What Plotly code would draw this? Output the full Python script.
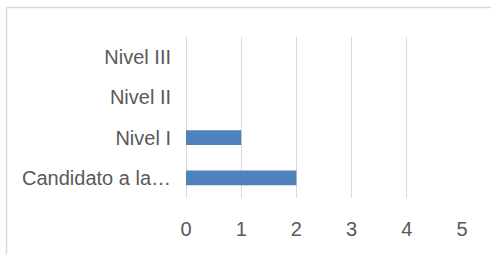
import plotly.graph_objects as go

categories = ["Candidato a la…", "Nivel I", "Nivel II", "Nivel III"]
values = [2, 1, 0, 0]
x_ticks = [0, 1, 2, 3, 4, 5]

W, H = 491, 254
L, R, T, B = 186, 29, 37, 56
pw, ph = W - L - R, H - T - B

fig = go.Figure(go.Bar(
    y=categories, x=values, orientation="h",
    marker=dict(color="#4F81BD", line=dict(width=0)),
))

grid = "#D9D9D9"
font = dict(family="Liberation Sans, Arial, sans-serif", size=20, color="#595959")

fig.update_layout(
    width=W, height=H,
    margin=dict(l=L, r=R, t=T, b=B),
    paper_bgcolor="white", plot_bgcolor="white",
    bargap=0.63,
    showlegend=False,
    font=font,
    xaxis=dict(range=[0, 5], tickvals=x_ticks, showgrid=True, gridcolor=grid, gridwidth=1.3,
               zeroline=True, zerolinecolor=grid, zerolinewidth=1.3,
               showline=False, ticks="", ticklabelstandoff=17,
               tickfont=font, fixedrange=True),
    yaxis=dict(categoryorder="array", categoryarray=categories, showgrid=False,
               zeroline=False, showline=False, ticks="", ticklabelstandoff=14,
               tickfont=font, fixedrange=True),
)

# outer chart frame (top and left edges visible)
def px_x(x):
    return (x - L) / pw

def px_y(y):
    return (H - B - y) / ph

fig.add_shape(type="line", xref="paper", yref="paper",
              x0=px_x(6.5), x1=px_x(W + 5), y0=px_y(7.5), y1=px_y(7.5),
              line=dict(color=grid, width=1.5))
fig.add_shape(type="line", xref="paper", yref="paper",
              x0=px_x(6.5), x1=px_x(6.5), y0=px_y(7.5), y1=px_y(H + 5),
              line=dict(color=grid, width=1.5))

fig.write_html("out.html", config={"displayModeBar": False},
               post_script="document.body.style.margin='0';document.body.style.overflow='hidden';")
